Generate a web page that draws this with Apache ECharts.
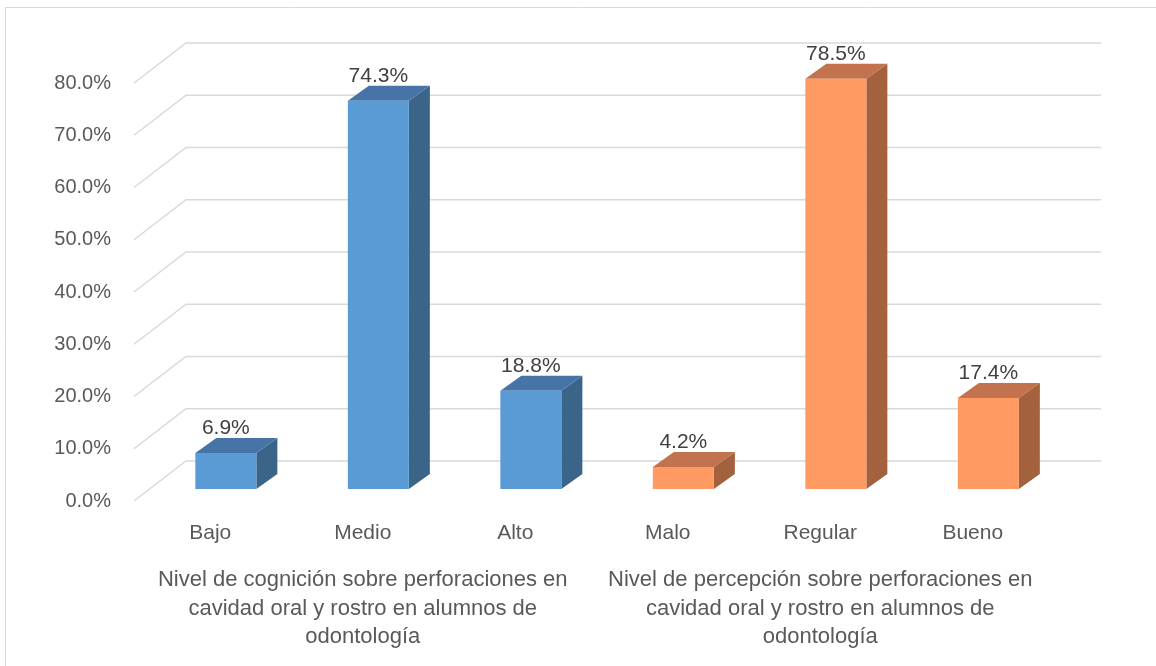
<!DOCTYPE html>
<html>
<head>
<meta charset="utf-8">
<script src="https://cdn.jsdelivr.net/npm/echarts@6/dist/echarts.min.js"></script>
<style>
html,body{margin:0;padding:0;background:#fff;}
#chart{width:1156px;height:666px;}
</style>
</head>
<body>
<div id="chart"></div>
<script>
// ---- data ----
const categories = ['Bajo', 'Medio', 'Alto', 'Malo', 'Regular', 'Bueno'];
const cognicionValues = [6.9, 74.3, 18.8];
const percepcionValues = [4.2, 78.5, 17.4];
const groupLabels = [
  'Nivel de cognición sobre perforaciones en\ncavidad oral y rostro en alumnos de\nodontología',
  'Nivel de percepción sobre perforaciones en\ncavidad oral y rostro en alumnos de\nodontología'
];
const yTicks = [0, 10, 20, 30, 40, 50, 60, 70, 80];

// ---- 3D geometry (pixels) ----
const FLOOR_DX = 52, FLOOR_DY = -40;    // full depth of the floor
const BAR_FRONT = 0.3;                  // bar front plane as fraction of depth
const BAR_DX = 21, BAR_DY = -15;        // bar depth
const FONT = '"Liberation Sans", Arial, sans-serif';
const TXT = '#595959';

const chart = echarts.init(document.getElementById('chart'));

function barRenderer(colors) {
  return function (params, api) {
    const cat = api.value(0), v = api.value(1);
    const base = api.coord([cat, 0]);
    const top = api.coord([cat, v]);
    const w = api.size([1, 0])[0] * 0.4;
    const ox = FLOOR_DX * BAR_FRONT, oy = FLOOR_DY * BAR_FRONT;
    const x0 = base[0] - w / 2 + ox, x1 = base[0] + w / 2 + ox;
    const yb = base[1] + oy, yt = top[1] + oy;
    return {
      type: 'group',
      children: [
        { type: 'polygon', shape: { points: [[x1, yb], [x1 + BAR_DX, yb + BAR_DY], [x1 + BAR_DX, yt + BAR_DY], [x1, yt]] },
          style: { fill: colors.side } },
        { type: 'polygon', shape: { points: [[x0, yt], [x1, yt], [x1 + BAR_DX, yt + BAR_DY], [x0 + BAR_DX, yt + BAR_DY]] },
          style: { fill: colors.top } },
        { type: 'rect', shape: { x: x0, y: yt, width: x1 - x0, height: yb - yt },
          style: { fill: colors.front } },
        { type: 'text', style: { text: v.toFixed(1) + '%', x: (x0 + x1) / 2, y: yt + BAR_DY + 1,
            align: 'center', verticalAlign: 'bottom', fill: '#404040', font: '21px ' + FONT } }
      ]
    };
  };
}

const option = {
  animation: false,
  backgroundColor: '#fff',
  graphic: [{
    type: 'rect', shape: { x: 5.5, y: 7.5, width: 1200, height: 700 },
    style: { fill: 'none', stroke: '#d9d9d9', lineWidth: 1 }, silent: true, z: -10
  }],
  grid: { left: 134, right: 107, top: 83, bottom: 165, containLabel: false },
  xAxis: [{
    type: 'category', data: categories, position: 'bottom',
    axisLine: { show: false }, axisTick: { show: false }, splitLine: { show: false },
    axisLabel: { color: TXT, fontSize: 21, fontFamily: FONT, margin: 20, lineHeight: 24, interval: 0 }
  }, {
    type: 'category', data: groupLabels, position: 'bottom', offset: 45,
    axisLine: { show: false }, axisTick: { show: false }, splitLine: { show: false },
    axisLabel: { color: TXT, fontSize: 22, fontFamily: FONT, margin: 20, lineHeight: 28.5, interval: 0, align: 'center' }
  }],
  yAxis: {
    type: 'value', min: 0, max: 80, interval: 10,
    axisLine: { show: false }, axisTick: { show: false }, splitLine: { show: false },
    axisLabel: { color: TXT, fontSize: 20, fontFamily: FONT, margin: 23,
      formatter: v => v.toFixed(1) + '%' }
  },
  series: [{
    type: 'custom', name: 'grid', silent: true, z: 1,
    data: yTicks.map(v => [0, v]),
    renderItem: function (params, api) {
      const cs = params.coordSys;
      const y = api.coord([0, api.value(1)])[1];
      const l = cs.x, r = cs.x + cs.width;
      return { type: 'polyline',
        shape: { points: [[l, y], [l + FLOOR_DX, y + FLOOR_DY], [r + FLOOR_DX, y + FLOOR_DY]] },
        style: { stroke: '#d9d9d9', lineWidth: 1.5, fill: 'none' } };
    }
  }, {
    type: 'custom', name: 'Cognición', z: 2,
    data: cognicionValues.map((v, i) => [i, v]),
    renderItem: barRenderer({ front: '#5B9BD5', top: '#4674A6', side: '#3B6489' })
  }, {
    type: 'custom', name: 'Percepción', z: 2,
    data: percepcionValues.map((v, i) => [i + cognicionValues.length, v]),
    renderItem: barRenderer({ front: '#FF9A63', top: '#C2724C', side: '#A3613E' })
  }]
};
chart.setOption(option);
</script>
</body>
</html>
